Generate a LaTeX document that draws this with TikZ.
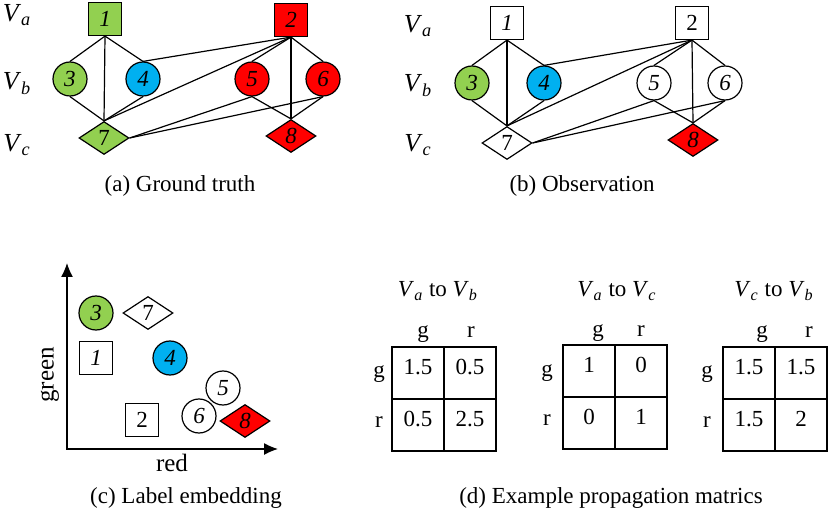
\documentclass[tikz,border=0pt]{standalone}
\usepackage{fontspec}
\setmainfont{Liberation Serif}
\usetikzlibrary{shapes.geometric,arrows.meta}
\definecolor{lgreen}{RGB}{146,208,80}
\definecolor{lblue}{RGB}{0,176,240}
\definecolor{lred}{RGB}{255,0,0}
\newcommand{\vlabel}[1]{\textit{V}\textsubscript{\textit{#1}}}
\tikzset{
	vnode/.style={draw, line width=0.6pt, inner sep=0pt, fill=white, font=\rmfamily\fontsize{11.5}{12}\selectfont\itshape},
	sqnode/.style={vnode, rectangle, minimum size=16.5pt},
	cirnode/.style={vnode, circle, minimum size=17pt},
	dianode/.style={vnode, diamond, aspect=1.5, minimum width=25pt, minimum height=16.5pt},
	edge/.style={line width=0.6pt},
	vlab/.style={anchor=base, font=\rmfamily\fontsize{13}{14}\selectfont},
	subcap/.style={anchor=base, font=\rmfamily\fontsize{11.5}{13}\selectfont},
	cell/.style={draw, line width=0.6pt, minimum width=26pt, minimum height=26pt, inner sep=0pt, text height=8pt, text depth=7pt, font=\rmfamily\fontsize{11.5}{13}\selectfont},
	head/.style={anchor=base, font=\rmfamily\fontsize{11.5}{13}\selectfont}
}

\begin{document}
\begin{tikzpicture}[x=0.5pt,y=-0.5pt]
	\useasboundingbox (0,0) rectangle (830,513);
	
	% (a) Ground truth
	\node[vlab] (aVa) at (17,22) {\vlabel{a}};
	\node[vlab] (aVb) at (17,90) {\vlabel{b}};
	\node[vlab] (aVc) at (17,152) {\vlabel{c}};
	\node[sqnode, fill=lgreen] (a1) at (105,19) {1};
	\node[sqnode, fill=lred] (a2) at (291,20) {2};
	\node[cirnode, fill=lgreen] (a3) at (70,79) {3};
	\node[cirnode, fill=lblue] (a4) at (143,79) {4};
	\node[cirnode, fill=lred] (a5) at (252,79) {5};
	\node[cirnode, fill=lred] (a6) at (323,79) {6};
	\node[dianode, fill=lgreen] (a7) at (104,138) {\upshape 7};
	\node[dianode, fill=lred] (a8) at (291,136) {8};
	\node[subcap] (capa) at (180,192) {(a) Ground truth};
	
	% (b) Observation
	\node[vlab] (bVa) at (418,33) {\vlabel{a}};
	\node[vlab] (bVb) at (418,92) {\vlabel{b}};
	\node[vlab] (bVc) at (418,152) {\vlabel{c}};
	\node[sqnode] (b1) at (507,23) {1};
	\node[sqnode] (b2) at (692,23) {\upshape 2};
	\node[cirnode, fill=lgreen] (b3) at (472,83) {3};
	\node[cirnode, fill=lblue] (b4) at (544,83) {4};
	\node[cirnode] (b5) at (654,83) {5};
	\node[cirnode] (b6) at (725,83) {6};
	\node[dianode] (b7) at (507,143) {\upshape 7};
	\node[dianode, fill=lred] (b8) at (693,140) {8};
	\node[subcap] (capb) at (582,192) {(b) Observation};
	
	% Edges of both graphs
	\foreach \g in {a,b}{
		\foreach \u/\v in {1/3,1/4,1/7,3/7,4/7,2/4,2/7,2/5,2/6,2/8,5/8,6/8}
			\draw[edge] (\g\u.south) -- (\g\v.north);
		\draw[edge] (\g5.south) -- (\g7.east);
		\draw[edge] (\g6.south) -- (\g7.east);
	}
	
	% (c) Label embedding
	\coordinate (corig) at (67,449);
	\coordinate (cytop) at (67,263);
	\coordinate (cxend) at (278,449);
	\draw[line width=0.6pt, {Latex[length=7pt,width=6pt]}-{Latex[length=7pt,width=6pt]}] (cytop) -- (corig) -- (cxend);
	\node[rotate=90, font=\rmfamily\fontsize{12.5}{13}\selectfont] (cgreen) at (50,375) {green};
	\node[font=\rmfamily\fontsize{12.5}{13}\selectfont] (cred) at (172,463) {red};
	\node[cirnode, fill=lgreen] (c3) at (96,313) {3};
	\node[dianode] (c7) at (148,313) {\upshape 7};
	\node[sqnode] (c1) at (96,358) {1};
	\node[cirnode, fill=lblue] (c4) at (170,358) {4};
	\node[cirnode] (c5) at (223,388) {5};
	\node[sqnode] (c2) at (142,420) {\upshape 2};
	\node[cirnode] (c6) at (199,416) {6};
	\node[dianode, fill=lred] (c8) at (245,421) {8};
	\node[subcap] (capc) at (186,503) {(c) Label embedding};
	
	% (d) Example propagation matrics
	\node[head] (tab) at (438,297) {\vlabel{a} to \vlabel{b}};
	\node[head] (tac) at (617,297) {\vlabel{a} to \vlabel{c}};
	\node[head] (tcb) at (774,297) {\vlabel{c} to \vlabel{b}};
	
	\node[cell] (m1gg) at (418,373) {1.5};
	\node[cell] (m1gr) at (470,373) {0.5};
	\node[cell] (m1rg) at (418,425) {0.5};
	\node[cell] (m1rr) at (470,425) {2.5};
	\node[head] at (423,337) {g};
	\node[head] at (471,337) {r};
	\node[head] at (379,378) {g};
	\node[head] at (379,427) {r};
	
	\node[cell] (m2gg) at (589,371) {1};
	\node[cell] (m2gr) at (641,371) {0};
	\node[cell] (m2rg) at (589,423) {0};
	\node[cell] (m2rr) at (641,423) {1};
	\node[head] at (598,336) {g};
	\node[head] at (641,336) {r};
	\node[head] at (547,376) {g};
	\node[head] at (547,425) {r};
	
	\node[cell] (m3gg) at (749,373) {1.5};
	\node[cell] (m3gr) at (801,373) {1.5};
	\node[cell] (m3rg) at (749,425) {1.5};
	\node[cell] (m3rr) at (801,425) {2};
	\node[head] at (762,337) {g};
	\node[head] at (809,337) {r};
	\node[head] at (707,378) {g};
	\node[head] at (707,427) {r};
	
	\node[subcap] (capd) at (611,503) {(d) Example propagation matrics};
\end{tikzpicture}
\end{document}
